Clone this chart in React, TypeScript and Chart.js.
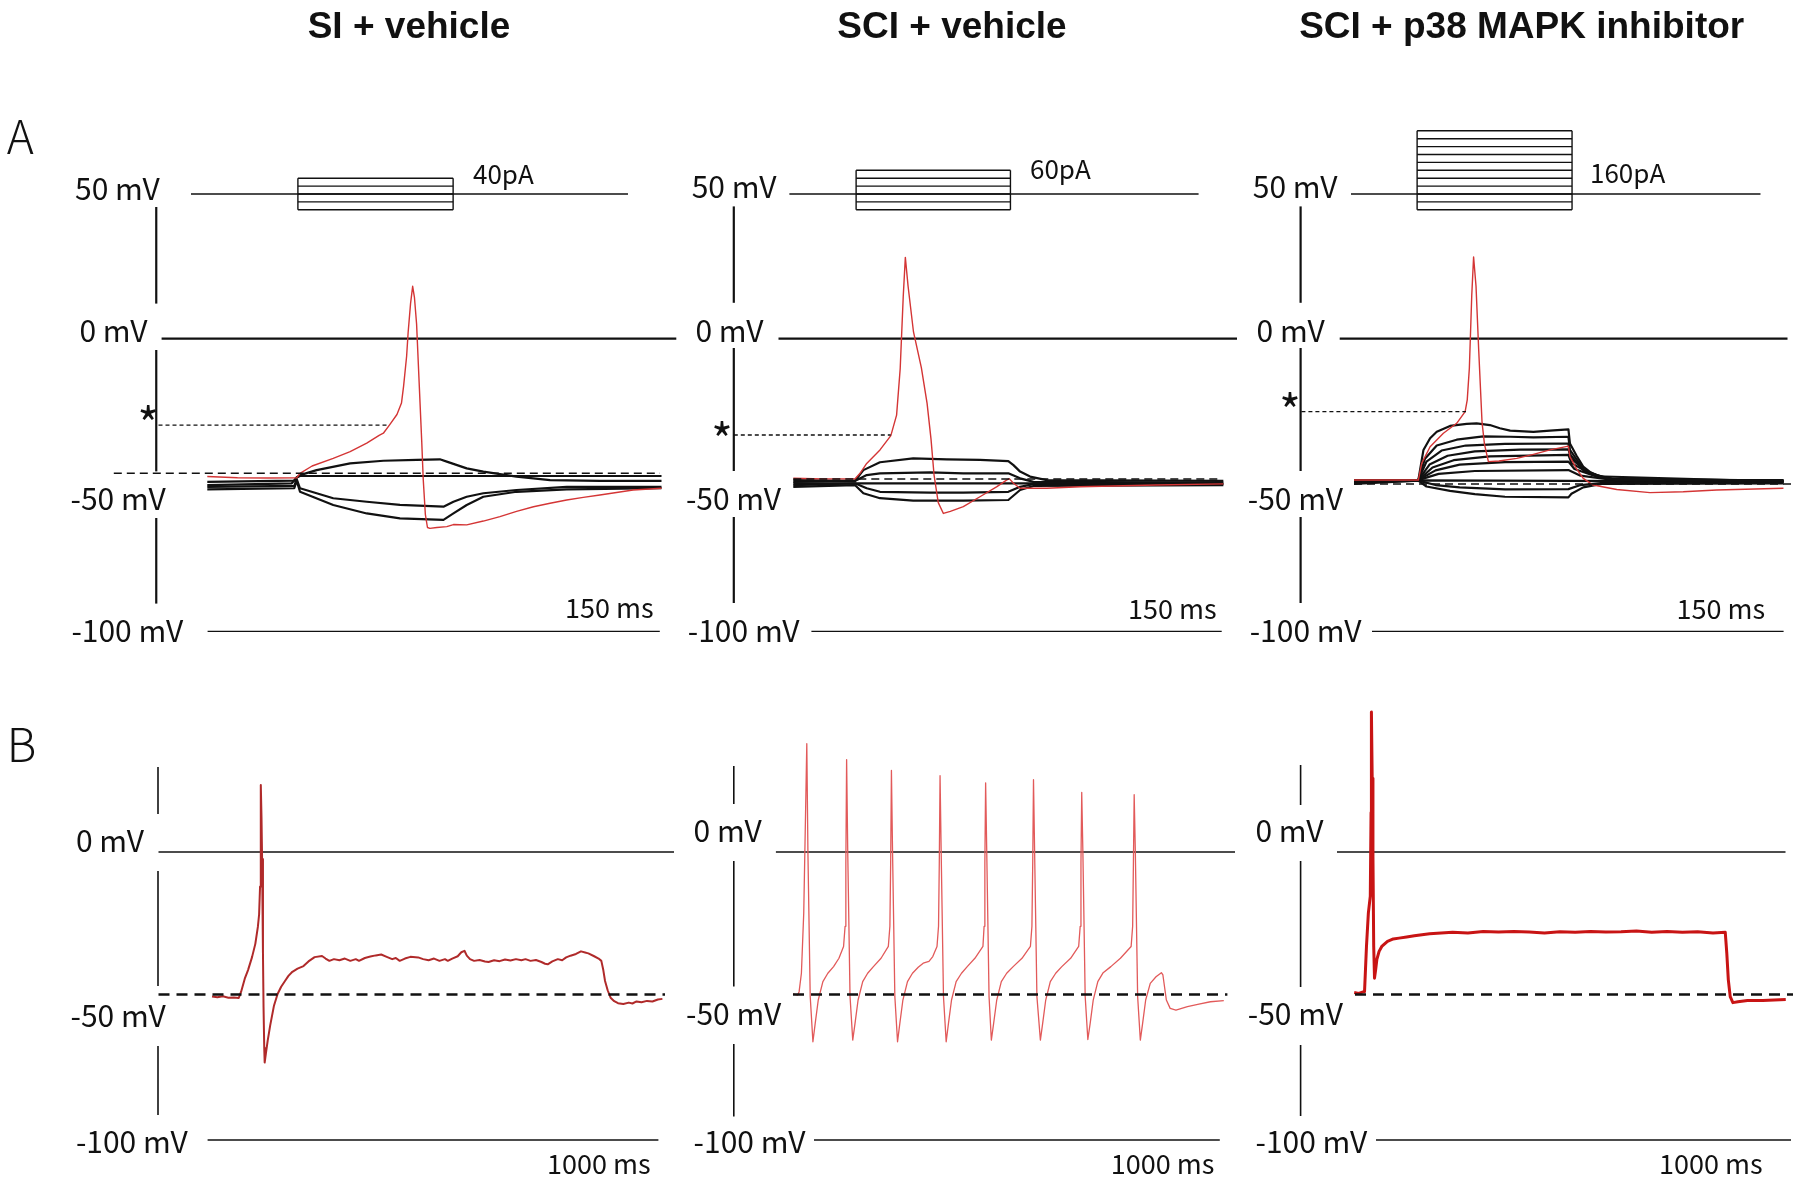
import React, { useEffect, useRef } from 'react';
import { Chart, registerables } from 'chart.js';
Chart.register(...registerables);

type P = [number, number];

// ---------------- data ----------------
const conditions = ['SI + vehicle', 'SCI + vehicle', 'SCI + p38 MAPK inhibitor'];
const rowLetters = ['A', 'B'];
const yLabelsA = ['50 mV', '0 mV', '-50 mV', '-100 mV'];
const yLabelsB = ['0 mV', '-50 mV', '-100 mV'];
const timeBarA = '150 ms';
const timeBarB = '1000 ms';

// current-step protocols (pA)
const stimLevelsA1 = [40, 20, 0, -20, -40];
const stimLevelsA2 = [60, 40, 20, 0, -20, -40];
const stimLevelsA3 = [160, 140, 120, 100, 80, 60, 40, 20, 0, -20, -40];
const stimPulseA: P[] = [[30, 81.4], [20.8, 71.9], [20.9, 72.2]]; // ms
const stimHoldA: P[] = [[-5.4, 139.3], [-1.3, 134.2], [-1, 134.6]]; // ms

const thresholdA = [-29.5, -32.9, -24.9]; // mV (*)
const restingA = [-46, -47.9, -49.6];
const restingB = [-49.5, -49.5, -49.5];

// Row A, SI + vehicle (ms, mV)
const a1Red: P[] = [[0,-47.1],[10,-47.5],[20,-47.6],[29.6,-47.5],[30.7,-46],[34.7,-43.5],[41.7,-40.9],[47.3,-38.6],[52.8,-35.7],[56.9,-33],[58.3,-32.3],[60.3,-29.5],[62.8,-25.9],[64.3,-22],[65,-16.2],[66,-6],[66.5,2.1],[67.3,12],[68,17.9],[68.6,14],[69.3,5],[70.2,-16.2],[71,-35],[71.5,-48],[72.2,-60],[72.9,-64.5],[73.7,-64.8],[76,-64.5],[79.3,-64.2],[81.5,-63.5],[85.9,-63.6],[91.4,-62.3],[96.9,-60.8],[102.4,-59],[108,-57.4],[113.5,-56.2],[119,-55.1],[124.5,-54.2],[130,-53.4],[141,-51.7],[150.4,-51.1]];
const a1K1: P[] = [[0,-48.9],[28.8,-48.5],[29.6,-47.4],[30.7,-46.6],[36.2,-44.9],[47.3,-42.6],[58.3,-41.7],[69.3,-41.4],[77,-41.2],[79.3,-42],[85.9,-44.3],[91.4,-45.4],[102.4,-47.1],[113.5,-48.3],[130,-48.6],[150.4,-48.6]];
const a1K2: P[] = [[0,-50],[28,-49.4],[29.6,-47.4],[30.7,-46.9],[90,-46.9],[150.4,-46.9]];
const a1K3: P[] = [[0,-50.6],[28.8,-50.3],[29.6,-48],[30.7,-51.1],[41.7,-54.5],[52.8,-55.7],[63.8,-56.8],[78.2,-57.4],[81.5,-55.7],[85.9,-54],[91.4,-52.8],[102.4,-51.7],[119,-50.6],[150.4,-50.6]];
const a1K4: P[] = [[0,-51.5],[28.8,-51.1],[29.6,-48.5],[30.7,-52.3],[41.7,-56.8],[52.8,-59.7],[63.8,-61.4],[78.2,-61.9],[81.5,-59.7],[85.9,-56.8],[91.4,-54],[102.4,-52.3],[119,-51.5],[150.4,-51.1]];

// Row A, SCI + vehicle
const a2Red: P[] = [[0,-47.7],[10,-47.9],[20.4,-47.9],[22.1,-46],[24.3,-42.6],[28.7,-38],[32.3,-33.1],[34.2,-26.1],[35.4,-10.2],[36.4,14.3],[37.1,27.8],[38,18],[39.8,2.3],[42.4,-9.9],[44.3,-22.1],[45.6,-34.3],[46.6,-46.5],[48,-56],[49.7,-59.7],[52,-59],[56.3,-57.4],[61.8,-54],[67.3,-50.6],[70.6,-48.3],[71.5,-47.8],[72.9,-49.4],[75.1,-51.1],[83.9,-51.1],[95,-50.6],[120,-50],[142.4,-49.6]];
const a2K1: P[] = [[0,-48.3],[20.4,-48.6],[23.2,-44.9],[28.7,-42.2],[39.7,-40.9],[50.8,-41.2],[61.8,-41.4],[71.2,-41.8],[72.9,-43.2],[75.1,-45.4],[78.4,-47.1],[83.9,-48.3],[142.4,-48.6]];
const a2K2: P[] = [[0,-48.9],[20.4,-48.6],[24.3,-46.6],[28.7,-46],[45.3,-45.7],[56.3,-46],[71.2,-46],[75.1,-47.7],[79.5,-48.9],[142.4,-49.2]];
const a2K3: P[] = [[0,-49.4],[70,-49.4],[142.4,-49.4]];
const a2K4: P[] = [[0,-50],[20.4,-49.4],[24.3,-51.1],[28.7,-52.3],[45.3,-52.6],[56.3,-52.6],[71.2,-52.3],[75.1,-50.6],[79.5,-49.7],[142.4,-49.7]];
const a2K5: P[] = [[0,-50.6],[20.4,-50],[23.2,-52.8],[28.7,-54.5],[39.7,-55.3],[56.3,-55.3],[71.2,-55.1],[75.1,-51.7],[79.5,-50.3],[142.4,-50]];

// Row A, SCI + p38 MAPK inhibitor
const a3Red: P[] = [[0,-48.3],[21.3,-48.3],[22.4,-42.6],[25.2,-36.9],[29.6,-32.3],[34,-28.9],[36.8,-24.9],[37.5,-20.9],[38.2,-10],[39,15],[39.6,27.9],[40.4,18],[41.3,-4],[42.4,-28.6],[43.2,-36],[44.5,-42],[48,-41.8],[53.9,-40.9],[59.4,-39.5],[64.9,-38],[71,-36.7],[71.5,-40.3],[73.7,-44.5],[75.9,-47.7],[79.2,-50],[87,-51.5],[98,-52.6],[109,-52.3],[120.1,-51.7],[142.2,-51.1]];
const a3K1: P[] = [[0,-48.3],[21.3,-48.3],[23,-38],[25.2,-34],[27.4,-31.8],[31.8,-29.8],[37.3,-29.1],[40.6,-28.9],[45,-29.5],[48.3,-30.6],[51.7,-31.4],[59.4,-31.8],[64.9,-31.4],[71,-31],[71.5,-35.8],[73.7,-40],[75.9,-43.7],[78.1,-45.5],[81.5,-47.1],[87,-48.3],[142.2,-48.3]];
const a3K2: P[] = [[0,-48.5],[21.3,-48.3],[23.5,-41],[27.4,-36.5],[34,-34.5],[42.8,-33.4],[51.7,-33.5],[59.4,-33.7],[71,-33.5],[71.5,-38],[75.9,-44.5],[81.5,-47.3],[87,-48.3],[142.2,-48.5]];
const a3K3: P[] = [[0,-48.6],[21.3,-48.3],[24,-42],[29,-38.2],[37,-36.5],[50,-35.9],[71,-35.8],[71.5,-39.5],[76,-45],[82,-47.5],[90,-48.3],[142.2,-48.6]];
const a3K4: P[] = [[0,-48.4],[21.3,-48.3],[25,-43],[31,-40],[40,-38.5],[55,-37.9],[71,-37.8],[72,-41],[77,-45.5],[84,-47.8],[142.2,-48.5]];
const a3K5: P[] = [[0,-48.7],[21.3,-48.3],[26,-44],[33,-41.5],[45,-40.2],[71,-39.7],[72,-42.5],[78,-46],[86,-48],[142.2,-48.7]];
const a3K6: P[] = [[0,-48.5],[21.3,-48.3],[27,-45],[35,-43],[50,-42.2],[71,-42],[73,-44.5],[80,-47],[142.2,-48.8]];
const a3K7: P[] = [[0,-48.8],[21.3,-48.3],[28,-46.2],[40,-45.2],[71,-44.9],[75,-46.8],[85,-48.2],[142.2,-48.9]];
const a3K8: P[] = [[0,-48.9],[21.3,-48.4],[71,-48.6],[142.2,-48.8]];
const a3K9: P[] = [[0,-49.2],[21.3,-48.5],[27,-50],[35,-50.8],[50,-51.5],[71,-51.4],[75,-50],[85,-49],[142.2,-49.1]];
const a3K10: P[] = [[0,-49.6],[21.3,-48.5],[24,-50.5],[31.8,-52],[40,-53.1],[50,-54],[71,-54.2],[72,-53],[75.9,-50.8],[82,-49.6],[142.2,-49.4]];

// Row B (ms, mV)
const b1Red: P[] = [[0,-50.2],[15,-50.4],[30,-50.1],[45,-50.6],[60,-50.5],[73.5,-50.7],[80,-48.5],[90,-44],[99,-41],[110,-36.5],[119,-31.9],[126,-26],[129.4,-21.7],[132,-12],[133.5,5],[134.6,23.3],[136,12],[137.6,-2.4],[140,-35],[141.6,-53.8],[143.5,-68],[144.7,-73.1],[148,-70],[153,-65.5],[159.9,-60.2],[170,-53.5],[180.2,-49.3],[190,-46.8],[200.5,-44.8],[210,-43],[220.8,-41.6],[235,-40.5],[251.4,-39.6],[265,-38],[281.9,-36.5],[302.2,-36.1],[312,-37],[322.5,-37.8],[335,-37.2],[350,-37.6],[365,-37],[380,-37.8],[395,-37.2],[403.8,-37.8],[420,-36.8],[435,-36.3],[450,-35.9],[464.8,-35.6],[480,-36.4],[495,-37.2],[505,-36.8],[515.7,-37.8],[530,-37],[545,-36.4],[566.5,-36.6],[580,-37.2],[595,-37.6],[610,-37],[625,-37.8],[640,-37.2],[647.8,-37.8],[660,-37],[675,-36.2],[685,-34.8],[693.6,-34.3],[700,-36],[708.8,-37.2],[720,-37.8],[735,-37.5],[750,-38],[759.7,-38.2],[775,-37.6],[790,-37.9],[805,-37.3],[820,-37.7],[835,-37.2],[850,-37.6],[861.3,-37.2],[875,-37.8],[890,-37.5],[905,-38.2],[915,-38.8],[922.3,-39],[935,-38],[950,-37.2],[962,-37.6],[973,-36.6],[985,-36],[1000,-35.4],[1013.7,-34.5],[1025,-34.9],[1034,-35.2],[1050,-36.2],[1062,-37],[1069.6,-37.8],[1075,-41],[1079.8,-44.8],[1087,-48],[1095,-50.6],[1105,-51.8],[1115.4,-52.5],[1130,-52.8],[1145,-52.3],[1155,-52.6],[1166.2,-51.9],[1180,-52.2],[1195,-51.7],[1210,-51.9],[1225,-51.2],[1237.4,-51]];
const b2Red: P[] = [[0,-49.3],[12.6,-49.7],[16.8,-48.5],[23.1,-42.1],[29.5,-21.2],[33.7,7.9],[37.9,37.6],[41,-0.2],[47.3,-50.2],[54.7,-65.9],[61,-59.5],[69.4,-51.4],[82.1,-45],[95.7,-42.1],[111.5,-39.8],[126.2,-36.9],[138.9,-32.8],[143.1,-25.8],[145.2,-3.7],
  [147.3,32.1],[150.4,-0.2],[156.7,-50.2],[164.1,-65.3],[170.4,-59.5],[178.8,-51.4],[191.5,-45],[205.1,-42.1],[220.9,-39.8],[241.9,-36.9],[261.9,-32.8],[266.2,-25.8],[268.3,-3.7],
  [270.4,28.3],[273.5,-0.2],[279.8,-50.2],[287.2,-65.9],[293.5,-59.5],[301.9,-51.4],[314.5,-45],[328.2,-42.1],[344,-40],[357.7,-38.6],[373.5,-38],[384,-36.3],[395.6,-32.8],[399.8,-25.8],[401.9,-3.7],
  [404,26.5],[407.1,-0.2],[413.4,-50.2],[420.8,-65.9],[427.1,-59.5],[435.5,-51.4],[448.2,-45],[462.9,-42.1],[478.7,-39.8],[499.7,-36.9],[521.8,-32.8],[525,-25.8],[527.1,-3.7],
  [529.2,24],[532.3,-0.2],[538.6,-50.2],[544.9,-65.3],[551.2,-59.5],[559.7,-51.4],[572.3,-45],[587,-42.1],[604.9,-39.8],[629.1,-36.9],[652.2,-32.8],[656.4,-25.8],[658.6,-3.7],
  [660.7,25.1],[663.8,-0.2],[670.1,-50.2],[679.6,-65.3],[685.9,-59.5],[694.3,-51.4],[706.9,-45],[721.7,-42.1],[738.5,-39.8],[762.7,-36.9],[784.8,-32.8],[789,-25.8],[791.1,-3.7],
  [793.2,20.7],[796.4,-0.2],[802.7,-50.2],[810,-65.1],[816.4,-59.5],[824.8,-51.4],[837.4,-45],[852.1,-41.9],[873.2,-39.8],[899.5,-36.9],[928.9,-32.8],[933.1,-25.8],[935.2,-3.7],
  [937.3,19.9],[940.5,-0.2],[946.8,-50.2],[954.2,-65.3],[960.5,-59.5],[968.9,-51.4],[981.5,-45.6],[997.3,-43.3],[1012,-41.9],[1016.2,-42.7],[1025.7,-51.4],[1036.2,-54.3],[1052,-54.9],[1083.6,-53.7],[1115.1,-52.8],[1146.7,-52],[1183.5,-51.6]];
const b3Red: P[] = [[0,-48.8],[12.6,-49.1],[26.3,-48.5],[28.4,-48.5],[33.7,-32.8],[38.9,-21.2],[44.2,-15.3],[46.3,13.7],[47.3,48.6],[49.4,25.6],[51.5,-1.4],[53.6,-32.8],[55.8,-43.8],[58.9,-40.9],[62.1,-37.4],[68.4,-34.5],[75.7,-32.8],[91.5,-31],[107.3,-30.2],[123.1,-29.9],[144.1,-29.5],[165.2,-29.1],[186.2,-28.7],[207.2,-28.4],[238.8,-28.1],[270.4,-27.9],[312.4,-28.1],[354.5,-27.6],[396.6,-27.8],[438.7,-27.6],[480.8,-27.8],[522.8,-28.1],[564.9,-27.7],[607,-27.9],[649.1,-27.6],[691.2,-27.8],[733.2,-27.7],[775.3,-27.4],[817.4,-27.9],[859.5,-27.6],[901.6,-27.9],[943.6,-27.7],[985.7,-28.1],[1019.4,-27.9],[1023.6,-35.1],[1027.8,-44.4],[1033,-50.2],[1040.4,-52.3],[1054.1,-52],[1080.4,-51.6],[1122.5,-51.6],[1154,-51.4],[1185.6,-51.2]];

// ---------------- layout (pixels, not data) ----------------
const W = 1800, H = 1182;
const FONT = '"Noto Sans CJK JP", "Noto Sans", "DejaVu Sans", sans-serif';
const A_PX_MS = 3.02, A_Y0 = 338.7, A_PX_MV = 2.927;
const B_PX_MS = 0.364, B_Y0 = 852, B_PX_MV = 2.88;
const I_Y0 = 194, I_PX_PA = 0.395;
const A_T0 = [207.3, 793.3, 1354];
const B_T0 = [212, 793, 1354.2];
const titleCenters = [409, 952, 1521.7];

const LAYOUT_A = [
  { axisX: 156.25, segs: [[207, 303.6], [350, 471.4], [518, 603.6]], zero: [161.6, 676.3], bottom: [207.6, 659.8], rest: [113.8, 660], thr: [158.5, 389],
    lab: [[75, 200], [79.5, 342], [70.5, 510], [71.4, 642]], bar: [565, 618], stim: [473, 184], star: [148.3, 441.5] },
  { axisX: 733.8, segs: [[206.4, 302.8], [348, 471], [517, 603]], zero: [778.5, 1237], bottom: [811.4, 1221.7], rest: [793.3, 1222], thr: [733.8, 890.7],
    lab: [[691.7, 198], [695.5, 342], [685.9, 510], [687.8, 642]], bar: [1128, 619], stim: [1030, 179], star: [722, 457.5] },
  { axisX: 1300.6, segs: [[206.4, 302.8], [348, 471], [517, 603]], zero: [1339.7, 1787.5], bottom: [1372, 1783.6], rest: [1354, 1793], thr: [1301.4, 1466],
    lab: [[1252.8, 198], [1256.6, 342], [1247.8, 510], [1249.7, 642]], bar: [1676.5, 619], stim: [1590, 183], star: [1290, 428.5] },
];
const LAYOUT_B = [
  { axisX: 158, segs: [[767, 814], [871, 986], [1046, 1115]], zero: [158.5, 674], bottom: [207.6, 658.4], rest: [158.5, 665],
    lab: [[75.9, 852], [70.5, 1027], [75.9, 1153]], bar: [547, 1174] },
  { axisX: 733.8, segs: [[766, 804], [861, 986.5], [1044, 1116.5]], zero: [775.9, 1235], bottom: [814, 1219.8], rest: [793, 1227.4],
    lab: [[693.6, 842], [686, 1025], [693.6, 1153]], bar: [1110.7, 1174] },
  { axisX: 1300.6, segs: [[765, 805], [861, 987], [1045, 1116]], zero: [1337, 1785.5], bottom: [1376, 1791], rest: [1355, 1793],
    lab: [[1255.5, 842], [1247.8, 1025], [1255.5, 1153]], bar: [1659, 1174] },
];
const letterPos = [[6.7, 154], [6.7, 762]];

const pts = (a: P[]) => a.map(([x, y]) => ({ x, y }));

const decor = {
  id: 'decor',
  beforeDatasetsDraw(chart: any) {
    const ctx = chart.ctx;
    const yA = chart.scales.yA, yB = chart.scales.yB;
    ctx.save();
    ctx.strokeStyle = '#111';
    ctx.lineCap = 'butt';
    const hline = (x: number[], y: number, w: number) => {
      ctx.lineWidth = w; ctx.beginPath(); ctx.moveTo(x[0], y); ctx.lineTo(x[1], y); ctx.stroke();
    };
    const vsegs = (x: number, segs: number[][], w: number) => {
      ctx.lineWidth = w;
      segs.forEach(s => { ctx.beginPath(); ctx.moveTo(x, s[0]); ctx.lineTo(x, s[1]); ctx.stroke(); });
    };
    LAYOUT_A.forEach(L => {
      vsegs(L.axisX, L.segs, 2.2);
      hline(L.zero, yA.getPixelForValue(0), 2.2);
      hline(L.bottom, yA.getPixelForValue(-100), 1.4);
    });
    LAYOUT_B.forEach(L => {
      vsegs(L.axisX, L.segs, 1.6);
      hline(L.zero, yB.getPixelForValue(0), 1.5);
      hline(L.bottom, yB.getPixelForValue(-100), 1.4);
    });
    ctx.restore();
  },
  afterDatasetsDraw(chart: any) {
    const ctx = chart.ctx;
    const yA = chart.scales.yA, yB = chart.scales.yB;
    ctx.save();
    ctx.strokeStyle = '#111';
    const dline = (x: number[], y: number, w: number, dash: number[]) => {
      ctx.setLineDash(dash); ctx.lineWidth = w; ctx.beginPath(); ctx.moveTo(x[0], y); ctx.lineTo(x[1], y); ctx.stroke();
    };
    LAYOUT_A.forEach((L, i) => {
      dline(L.rest, yA.getPixelForValue(restingA[i]), 1.5, [8, 5]);
      dline(L.thr, yA.getPixelForValue(thresholdA[i]), 1.3, [4, 3]);
    });
    LAYOUT_B.forEach((L, i) => {
      dline(L.rest, yB.getPixelForValue(restingB[i]), 2.4, [11, 7]);
    });
    ctx.setLineDash([]);
    ctx.fillStyle = '#111';
    ctx.textBaseline = 'alphabetic';
    const stimMax = [stimLevelsA1, stimLevelsA2, stimLevelsA3].map(l => Math.max(...l));
    LAYOUT_A.forEach((L, i) => {
      ctx.textAlign = 'left';
      ctx.font = `30px ${FONT}`;
      yLabelsA.forEach((t, j) => ctx.fillText(t, L.lab[j][0], L.lab[j][1]));
      ctx.font = `27px ${FONT}`;
      ctx.fillText(timeBarA, L.bar[0], L.bar[1]);
      ctx.font = `26px ${FONT}`;
      ctx.fillText(`${stimMax[i]}pA`, L.stim[0], L.stim[1]);
      ctx.textAlign = 'center';
      ctx.font = `46px ${FONT}`;
      ctx.fillText('*', L.star[0], L.star[1]);
    });
    ctx.textAlign = 'left';
    LAYOUT_B.forEach(L => {
      ctx.font = `30px ${FONT}`;
      yLabelsB.forEach((t, j) => ctx.fillText(t, L.lab[j][0], L.lab[j][1]));
      ctx.font = `27px ${FONT}`;
      ctx.fillText(timeBarB, L.bar[0], L.bar[1]);
    });
    ctx.font = `300 46px ${FONT}`;
    rowLetters.forEach((t, i) => ctx.fillText(t, letterPos[i][0], letterPos[i][1]));
    ctx.restore();
  },
};

export default function App() {
  const ref = useRef<HTMLCanvasElement>(null);
  useEffect(() => {
    const canvas = ref.current;
    if (!canvas) return;
    const datasets: any[] = [];
    const add = (data: P[], xID: string, yID: string, color: string, width: number) =>
      datasets.push({ data: pts(data), xAxisID: xID, yAxisID: yID, borderColor: color, backgroundColor: color,
        borderWidth: width, pointRadius: 0, pointHoverRadius: 0, tension: 0, fill: false, borderJoinStyle: 'round' });

    const RED_A = '#d43535';
    // red traces (drawn on top: first in list)
    add(a1Red, 'xA0', 'yA', RED_A, 1.4);
    add(a2Red, 'xA1', 'yA', RED_A, 1.4);
    add(a3Red, 'xA2', 'yA', RED_A, 1.4);
    add(b1Red, 'xB0', 'yB', '#b02a2a', 2);
    add(b2Red, 'xB1', 'yB', '#e25a5a', 1.3);
    add(b3Red, 'xB2', 'yB', '#c81414', 3);
    // black traces
    [a1K1, a1K2, a1K3, a1K4].forEach(d => add(d, 'xA0', 'yA', '#111', 2.2));
    [a2K1, a2K2, a2K3, a2K4, a2K5].forEach(d => add(d, 'xA1', 'yA', '#111', 2.2));
    [a3K1, a3K2, a3K3, a3K4, a3K5, a3K6, a3K7, a3K8, a3K9, a3K10].forEach(d => add(d, 'xA2', 'yA', '#111', 2.2));
    // stimulus protocols
    [stimLevelsA1, stimLevelsA2, stimLevelsA3].forEach((levels, i) => {
      const xID = 'xA' + i;
      const [on, off] = stimPulseA[i];
      const [h0, h1] = stimHoldA[i];
      const lo = Math.min(...levels), hi = Math.max(...levels);
      add([[h0, 0], [h1, 0]], xID, 'yI', '#111', 1.4);
      levels.forEach(l => add([[on, l], [off, l]], xID, 'yI', '#111', 1.4));
      add([[on, lo], [on, hi]], xID, 'yI', '#111', 1.4);
      add([[off, lo], [off, hi]], xID, 'yI', '#111', 1.4);
    });

    const scales: any = {};
    A_T0.forEach((t0, i) => {
      scales['xA' + i] = { type: 'linear', axis: 'x', display: false, bounds: 'data', min: -t0 / A_PX_MS, max: (W - t0) / A_PX_MS };
    });
    B_T0.forEach((t0, i) => {
      scales['xB' + i] = { type: 'linear', axis: 'x', display: false, bounds: 'data', min: -t0 / B_PX_MS, max: (W - t0) / B_PX_MS };
    });
    scales.yA = { type: 'linear', axis: 'y', display: false, bounds: 'data', min: (A_Y0 - H) / A_PX_MV, max: A_Y0 / A_PX_MV };
    scales.yB = { type: 'linear', axis: 'y', display: false, bounds: 'data', min: (B_Y0 - H) / B_PX_MV, max: B_Y0 / B_PX_MV };
    scales.yI = { type: 'linear', axis: 'y', display: false, bounds: 'data', min: (I_Y0 - H) / I_PX_PA, max: I_Y0 / I_PX_PA };

    const chart = new Chart(canvas, {
      type: 'line',
      data: { datasets },
      options: {
        animation: false,
        responsive: false,
        devicePixelRatio: 1,
        events: [],
        layout: { padding: 0 },
        plugins: { legend: { display: false }, tooltip: { enabled: false }, title: { display: false } },
        scales,
      },
      plugins: [decor as any],
    });
    let alive = true;
    if ((document as any).fonts) {
      (document as any).fonts.load(`30px ${FONT}`).then(() => { if (alive) chart.draw(); }).catch(() => {});
    }
    return () => { alive = false; chart.destroy(); };
  }, []);

  return (
    <div style={{ position: 'fixed', left: 0, top: 0, width: W, height: H, background: '#fff', overflow: 'hidden' }}>
      <canvas ref={ref} width={W} height={H} style={{ position: 'absolute', left: 0, top: 0, width: W, height: H }} />
      {conditions.map((c, i) => (
        <div key={c} style={{ position: 'absolute', left: titleCenters[i] - 400, width: 800, top: 7, textAlign: 'center',
          font: 'bold 37px "Liberation Sans", Arial, sans-serif', lineHeight: '37px', color: '#111', whiteSpace: 'nowrap' }}>{c}</div>
      ))}
    </div>
  );
}
